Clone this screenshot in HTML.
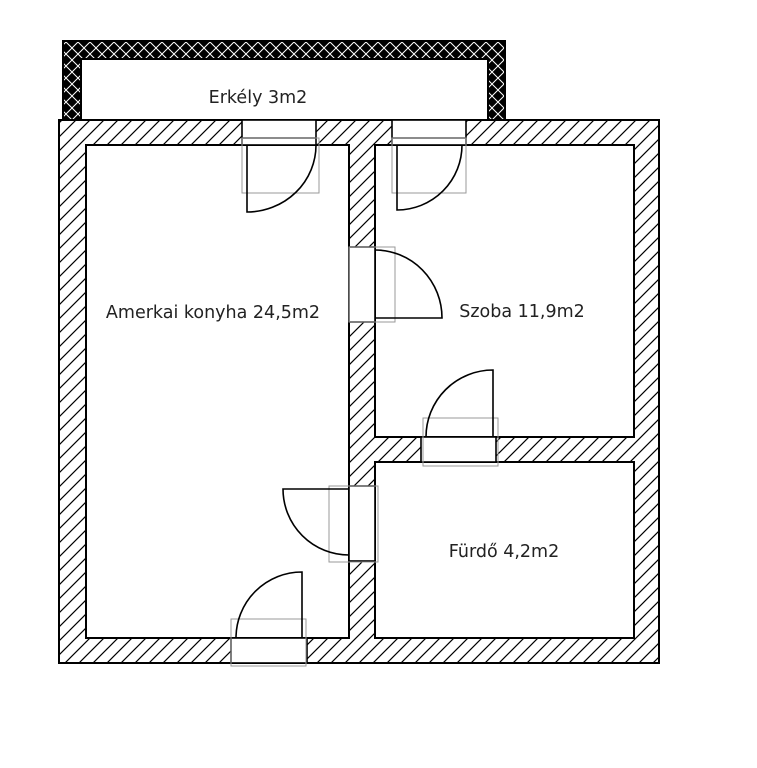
<!DOCTYPE html>
<html><head><meta charset="utf-8"><style>html,body{margin:0;padding:0;background:#fff}svg{display:block}</style></head>
<body>
<svg width="757" height="768" viewBox="0 0 757 768" xmlns="http://www.w3.org/2000/svg">
<defs>
<pattern id="h" patternUnits="userSpaceOnUse" width="14" height="14">
<rect width="14" height="14" fill="#fff"/>
<path d="M-2,16 L16,-2 M-9,9 L9,-9 M5,23 L23,5" stroke="#000" stroke-width="1.2"/>
</pattern>
<pattern id="x" patternUnits="userSpaceOnUse" width="12" height="12">
<rect width="12" height="12" fill="#000"/>
<path d="M0,0 L12,12 M12,0 L0,12" stroke="#fff" stroke-width="1"/>
</pattern>
</defs>
<path d="M63,41 H505 V120 H488 V59 H81 V120 H63 Z" fill="url(#x)" stroke="#000" stroke-width="2"/>
<path fill-rule="evenodd" d="M59,120 H659 V663 H59 Z M86,145 H349 V638 H86 Z M375,145 H634 V437 H375 Z M375,462 H634 V638 H375 Z" fill="url(#h)" stroke="#000" stroke-width="2"/>
<g fill="none" stroke="#000" stroke-width="2">
<rect x="86" y="145" width="263" height="493"/>
<rect x="375" y="145" width="259" height="292"/>
<rect x="375" y="462" width="259" height="176"/>
</g>
<g fill="#fff" stroke="#000" stroke-width="1.6">
<rect x="242" y="120" width="74" height="25"/>
<rect x="392" y="120" width="74" height="25"/>
<rect x="349" y="247" width="26" height="75"/>
<rect x="421" y="437" width="75" height="25"/>
<rect x="349" y="486" width="26" height="75"/>
<rect x="231" y="638" width="76" height="25"/>
</g>
<g stroke="#000" stroke-width="1.6">
<line x1="242" y1="138" x2="316" y2="138"/>
<line x1="392" y1="138" x2="466" y2="138"/>
</g>
<g fill="none" stroke="#999" stroke-width="1">
<rect x="242" y="138" width="77" height="55"/>
<rect x="392" y="138" width="74" height="55"/>
<rect x="349" y="247" width="46" height="75"/>
<rect x="423" y="418" width="75" height="48"/>
<rect x="329" y="486" width="49" height="76"/>
<rect x="231" y="619" width="75" height="47"/>
</g>
<g fill="none" stroke="#000" stroke-width="1.6">
<path d="M247,145 V212 A69,67 0 0 0 316,145"/>
<path d="M397,145 V210 A65,65 0 0 0 462,145"/>
<path d="M375,318 H442 A67,68 0 0 0 375,250"/>
<path d="M493,437 V370 A67,67 0 0 0 426,437"/>
<path d="M349,489 H283 A66,66 0 0 0 349,555"/>
<path d="M302,638 V572 A66,66 0 0 0 236,638"/>
</g>
<g font-family="'DejaVu Sans', 'Liberation Sans', sans-serif" font-size="17.5" fill="#222" text-anchor="middle">
<text x="258" y="103">Erkély 3m2</text>
<text x="213" y="318">Amerkai konyha 24,5m2</text>
<text x="522" y="317">Szoba 11,9m2</text>
<text x="504" y="557">Fürdő 4,2m2</text>
</g>
</svg>
</body></html>
